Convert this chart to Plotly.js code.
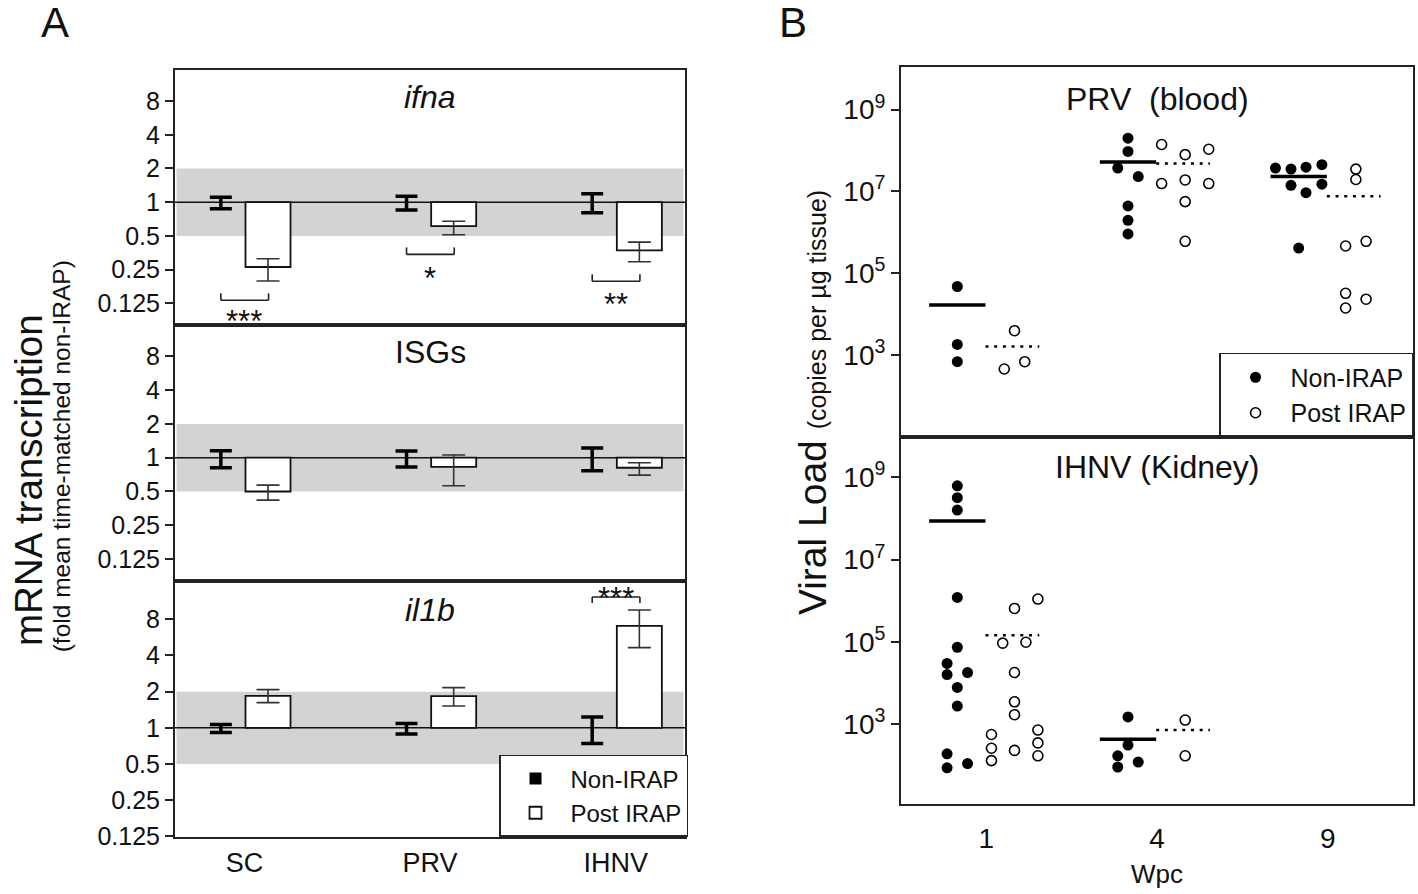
<!DOCTYPE html>
<html><head><meta charset="utf-8">
<script src="https://cdn.plot.ly/plotly-3.0.1.min.js"></script>
<style>html,body{margin:0;padding:0;background:#fff}#chart{width:1418px;height:894px}</style>
</head><body><div id="chart"></div>
<script>
// ---------- Panel A data ----------
const categories = ['SC', 'PRV', 'IHNV'];
const geneTitles = ['<i>ifna</i>', 'ISGs', '<i>il1b</i>'];
const foldTicks = [0.125, 0.25, 0.5, 1, 2, 4, 8];
const foldTickText = ['0.125', '0.25', '0.5', '1', '2', '4', '8'];

const ifnaNonMean = [1, 1, 1];
const ifnaNonErrUp = [0.108, 0.13, 0.19];
const ifnaNonErrDown = [0.126, 0.15, 0.196];
const ifnaPostMean = [0.264, 0.611, 0.372];
const ifnaPostErrUp = [0.049, 0.066, 0.068];
const ifnaPostErrDown = [0.066, 0.099, 0.078];

const isgNonMean = [1, 1, 1];
const isgNonErrUp = [0.154, 0.148, 0.22];
const isgNonErrDown = [0.186, 0.174, 0.234];
const isgPostMean = [0.50, 0.83, 0.814];
const isgPostErrUp = [0.07, 0.227, 0.089];
const isgPostErrDown = [0.081, 0.267, 0.114];

const il1bNonMean = [1, 1, 1];
const il1bNonErrUp = [0.065, 0.086, 0.227];
const il1bNonErrDown = [0.086, 0.114, 0.259];
const il1bPostMean = [1.845, 1.835, 7.05];
const il1bPostErrUp = [0.235, 0.325, 2.53];
const il1bPostErrDown = [0.225, 0.315, 2.4];

// ---------- Panel B data ----------
const wpcLabels = ['1', '4', '9'];
const loadTicks = [1e3, 1e5, 1e7, 1e9];
const loadTickText = ['10<sup>3</sup>', '10<sup>5</sup>', '10<sup>7</sup>', '10<sup>9</sup>'];

const prvNonWeek = [0,0,0, 1,1,1,1,1,1,1, 2,2,2,2,2,2,2,2];
const prvNonLoad = [4.7e4,1.8e3,6.8e2, 2.0e8,9.5e7,3.7e7,2.3e7,4.4e6,1.95e6,9.1e5, 3.7e7,3.5e7,3.9e7,4.5e7,1.4e7,9.3e6,1.5e7,4.1e5];
const prvNonJitter = [0,0,0, 0,0,-0.06,0.06,0,0,0, -0.136,-0.045,0.043,0.136,-0.045,0.043,0.136,0];
const prvPostWeek = [0,0,0, 1,1,1,1,1,1,1,1, 2,2,2,2,2,2,2];
const prvPostLoad = [3.9e3,4.5e2,6.8e2, 1.4e8,7.9e7,1.07e8,1.55e7,1.9e7,1.55e7,5.6e6,6.0e5, 3.5e7,1.95e7,4.6e5,6.0e5,3.2e4,1.4e4,2.3e4];
const prvPostJitter = [0,-0.06,0.06, -0.138,0,0.138,-0.138,0,0.138,0,0, 0,0,-0.06,0.06,-0.06,-0.06,0.06];
const prvNonMean = [1.65e4, 5.2e7, 2.3e7];
const prvPostMean = [1.6e3, 4.8e7, 7.6e6];

const ihnvNonWeek = [0,0,0,0,0,0,0,0,0,0,0,0,0, 1,1,1,1,1];
const ihnvNonLoad = [6.2e8,3.2e8,1.6e8,1.2e6,7.4e4,3.0e4,1.6e4,1.8e4,7.8e3,2.75e3,1.9e2,8.7e1,1.1e2, 1.5e3,3.1e2,1.7e2,9.1e1,1.2e2];
const ihnvNonJitter = [0,0,0,0,0,-0.06,-0.06,0.06,0,0,-0.06,-0.06,0.06, 0,0,-0.06,-0.06,0.06];
const ihnvPostWeek = [0,0,0,0,0,0,0,0,0,0,0,0,0,0, 1,1];
const ihnvPostLoad = [1.1e6,6.5e5,9.3e4,9.8e4,1.8e4,3.5e3,1.7e3,5.6e2,2.6e2,1.3e2,2.3e2,7.2e2,3.5e2,1.7e2, 1.26e3,1.7e2];
const ihnvPostJitter = [0.137,0,-0.069,0.067,0,0,0,-0.135,-0.135,-0.135,0,0.137,0.137,0.137, 0,0];
const ihnvNonMean = [8.7e7, 4.3e2, null];
const ihnvPostMean = [1.45e5, 7.2e2, null];

// ---------- build ----------
const FONT = 'Liberation Sans, Arial, sans-serif';
const A_OFF = 0.127, BAR_W = 0.2425;
const B_NON = -0.17, B_POST = 0.165;
const idx = categories.map((c, i) => i);

const traces = [];
function panelA(k, nonMean, nonUp, nonDown, postMean, postUp, postDown) {
  const xa = k === 0 ? 'x' : 'x' + (k + 1);
  const ya = k === 0 ? 'y' : 'y' + (k + 1);
  const show = k === 2;
  traces.push({type: 'bar', x: idx, y: nonMean.map(v => v - 1), base: 1,
    offset: -A_OFF - BAR_W / 2, width: BAR_W, name: 'Non-IRAP', legend: 'legend',
    marker: {color: '#000', line: {width: 0}}, showlegend: show, xaxis: xa, yaxis: ya, hoverinfo: 'skip'});
  traces.push({type: 'bar', x: idx, y: postMean.map(v => v - 1), base: 1,
    offset: A_OFF - BAR_W / 2, width: BAR_W, name: 'Post IRAP', legend: 'legend',
    marker: {color: '#fff', line: {color: '#111', width: 1.8}}, showlegend: show, xaxis: xa, yaxis: ya, hoverinfo: 'skip'});
  traces.push({type: 'scatter', mode: 'markers', x: idx.map(i => i - A_OFF), y: nonMean,
    marker: {size: 1, opacity: 0}, showlegend: false, xaxis: xa, yaxis: ya, hoverinfo: 'skip',
    error_y: {type: 'data', symmetric: false, array: nonUp, arrayminus: nonDown, color: '#000', thickness: 3.5, width: 11}});
  traces.push({type: 'scatter', mode: 'markers', x: idx.map(i => i + A_OFF), y: postMean,
    marker: {size: 1, opacity: 0}, showlegend: false, xaxis: xa, yaxis: ya, hoverinfo: 'skip',
    error_y: {type: 'data', symmetric: false, array: postUp, arrayminus: postDown, color: '#333', thickness: 1.6, width: 11.5}});
}
panelA(0, ifnaNonMean, ifnaNonErrUp, ifnaNonErrDown, ifnaPostMean, ifnaPostErrUp, ifnaPostErrDown);
panelA(1, isgNonMean, isgNonErrUp, isgNonErrDown, isgPostMean, isgPostErrUp, isgPostErrDown);
panelA(2, il1bNonMean, il1bNonErrUp, il1bNonErrDown, il1bPostMean, il1bPostErrUp, il1bPostErrDown);

function dots(week, load, jitter, center, filled, xa, ya, show) {
  traces.push({type: 'scatter', mode: 'markers', x: week.map((w, k) => w + center + jitter[k]), y: load,
    name: filled ? 'Non-IRAP' : 'Post IRAP', legend: 'legend2', showlegend: show, xaxis: xa, yaxis: ya, hoverinfo: 'skip',
    marker: filled ? {symbol: 'circle', size: 11, color: '#000'}
                   : {symbol: 'circle-open', size: 10, color: '#000', line: {width: 1.6, color: '#000'}}});
}
function means(m, x0, x1, dash, w, xa, ya) {
  const xs = [], ys = [];
  m.forEach((v, i) => { if (v == null) return; xs.push(i + x0, i + x1, null); ys.push(v, v, null); });
  traces.push({type: 'scatter', mode: 'lines', x: xs, y: ys, showlegend: false, xaxis: xa, yaxis: ya, hoverinfo: 'skip',
    line: {color: '#000', width: w, dash: dash}});
}
means(prvNonMean, -0.335, -0.005, 'solid', 3.5, 'x4', 'y4');
means(prvPostMean, -0.005, 0.31, '3px,5.7px', 2.5, 'x4', 'y4');
dots(prvNonWeek, prvNonLoad, prvNonJitter, B_NON, true, 'x4', 'y4', true);
dots(prvPostWeek, prvPostLoad, prvPostJitter, B_POST, false, 'x4', 'y4', true);
means(ihnvNonMean, -0.335, -0.005, 'solid', 3.5, 'x5', 'y5');
means(ihnvPostMean, -0.005, 0.31, '3px,5.7px', 2.5, 'x5', 'y5');
dots(ihnvNonWeek, ihnvNonLoad, ihnvNonJitter, B_NON, true, 'x5', 'y5', false);
dots(ihnvPostWeek, ihnvPostLoad, ihnvPostJitter, B_POST, false, 'x5', 'y5', false);

// ---------- layout ----------
const axLine = {showline: true, mirror: true, linecolor: '#222', linewidth: 2, showgrid: false, zeroline: false};
const xA = {...axLine, domain: [0.1234, 0.4831], range: [-0.374, 2.373], ticks: '', showticklabels: false, fixedrange: true};
const yA = {...axLine, type: 'log', tickvals: foldTicks, ticktext: foldTickText, ticks: 'outside', ticklen: 8,
  tickwidth: 2, tickcolor: '#222', tickfont: {size: 25, color: '#111'}};
const xB = {...axLine, domain: [0.6354, 0.9965], range: [-0.5, 2.5], ticks: '', showticklabels: false};
const yB = {...axLine, type: 'log', tickvals: loadTicks, ticktext: loadTickText, ticks: 'outside', ticklen: 8,
  tickwidth: 2, tickcolor: '#222', tickfont: {size: 28, color: '#111'}};

const shapes = [];
['y', 'y2', 'y3'].forEach((ya, k) => {
  const xa = k === 0 ? 'x' : 'x' + (k + 1);
  shapes.push({type: 'rect', xref: xa + ' domain', yref: ya, x0: 0.003, x1: 0.997, y0: 0.5, y1: 2,
    fillcolor: '#d3d3d3', line: {width: 0}, layer: 'below'});
  shapes.push({type: 'line', xref: xa + ' domain', yref: ya, x0: 0, x1: 1, y0: 1, y1: 1,
    line: {color: '#111', width: 1.6}, layer: 'below'});
});
function bracket(xa, ya, xc, yBar, yTip) {
  const l = {color: '#222', width: 1.6};
  shapes.push({type: 'line', xref: xa, yref: ya, x0: xc - 0.127, x1: xc + 0.13, y0: yBar, y1: yBar, line: l});
  shapes.push({type: 'line', xref: xa, yref: ya, x0: xc - 0.127, x1: xc - 0.127, y0: yBar, y1: yTip, line: l});
  shapes.push({type: 'line', xref: xa, yref: ya, x0: xc + 0.13, x1: xc + 0.13, y0: yBar, y1: yTip, line: l});
}
bracket('x', 'y', 0, 0.1332, 0.1538);
bracket('x', 'y', 1, 0.342, 0.395);
bracket('x', 'y', 2, 0.197, 0.227);
bracket('x3', 'y3', 2, 12.28, 10.95);

const ann = [];
function star(xa, ya, x, yVal, txt) {
  ann.push({xref: xa, yref: ya, x: x, y: Math.log10(yVal), text: txt, showarrow: false,
    xanchor: 'center', yanchor: 'middle', font: {size: 31, color: '#111'}});
}
star('x', 'y', 0, 0.0870, '***');
star('x', 'y', 1, 0.2100, '*');
star('x', 'y', 2, 0.1210, '**');
star('x3', 'y3', 2, 11.9, '***');

const titleY = [0.894, 0.895, 0.887];
geneTitles.forEach((t, k) => {
  const xa = k === 0 ? 'x' : 'x' + (k + 1);
  const ya = k === 0 ? 'y' : 'y' + (k + 1);
  ann.push({xref: xa + ' domain', yref: ya + ' domain', x: 0.5, y: titleY[k], text: t, showarrow: false,
    xanchor: 'center', yanchor: 'middle', font: {size: 32, color: '#111'}});
});
ann.push({xref: 'x4 domain', yref: 'y4 domain', x: 0.5, y: 0.915, text: 'PRV\u00a0\u00a0(blood)', showarrow: false,
  xanchor: 'center', yanchor: 'middle', font: {size: 32, color: '#111'}});
ann.push({xref: 'x5 domain', yref: 'y5 domain', x: 0.5, y: 0.918, text: 'IHNV (Kidney)', showarrow: false,
  xanchor: 'center', yanchor: 'middle', font: {size: 32, color: '#111'}});
ann.push({xref: 'paper', yref: 'paper', x: 0.0197, y: 0.463, text: 'mRNA transcription', textangle: -90, showarrow: false,
  xanchor: 'center', yanchor: 'middle', font: {size: 38.5, color: '#111'}});
ann.push({xref: 'paper', yref: 'paper', x: 0.0440, y: 0.49, text: '(fold mean time-matched non-IRAP)', textangle: -90, showarrow: false,
  xanchor: 'center', yanchor: 'middle', font: {size: 24.5, color: '#111'}});
ann.push({xref: 'paper', yref: 'paper', x: 0.5725, y: 0.55,
  text: 'Viral Load <span style="font-size:25px">(copies per µg tissue)</span>', textangle: -90, showarrow: false,
  xanchor: 'center', yanchor: 'middle', font: {size: 39, color: '#111'}});
ann.push({xref: 'paper', yref: 'paper', x: 0.0388, y: 0.975, text: 'A', showarrow: false,
  xanchor: 'center', yanchor: 'middle', font: {size: 42, color: '#111', family: 'Liberation Sans Narrow, Liberation Sans, Arial'}});
ann.push({xref: 'paper', yref: 'paper', x: 0.5592, y: 0.975, text: 'B', showarrow: false,
  xanchor: 'center', yanchor: 'middle', font: {size: 42, color: '#111', family: 'Liberation Sans Narrow, Liberation Sans, Arial'}});

const layout = {
  width: 1418, height: 894,
  margin: {l: 0, r: 0, t: 0, b: 0},
  paper_bgcolor: '#fff', plot_bgcolor: 'rgba(0,0,0,0)',
  font: {family: FONT, color: '#111'},
  barmode: 'overlay',
  showlegend: true,
  xaxis: {...xA, anchor: 'y'},
  yaxis: {...yA, domain: [0.6365, 0.9217], anchor: 'x', range: [-1.0957, 1.1800]},
  xaxis2: {...xA, anchor: 'y2'},
  yaxis2: {...yA, domain: [0.3501, 0.6365], anchor: 'x2', range: [-1.099, 1.183]},
  xaxis3: {...xA, anchor: 'y3', showticklabels: true, tickvals: idx, ticktext: categories,
    tickfont: {size: 27, color: '#111'}, ticklabelstandoff: 1},
  yaxis3: {...yA, domain: [0.0638, 0.3501], anchor: 'x3', range: [-0.9091, 1.2222]},
  xaxis4: {...xB, anchor: 'y4'},
  yaxis4: {...yB, domain: [0.5112, 0.9245], anchor: 'x4', range: [0.99, 10.03]},
  xaxis5: {...xB, anchor: 'y5', showticklabels: true, tickvals: [0, 1, 2], ticktext: wpcLabels,
    tickfont: {size: 28, color: '#111'}, ticklabelstandoff: 8,
    title: {text: 'Wpc', font: {size: 26, color: '#111'}, standoff: 12}},
  yaxis5: {...yB, domain: [0.1007, 0.5112], anchor: 'x5', range: [1.06, 9.98]},
  legend: {x: 0.4852, xanchor: 'right', y: 0.0638, yanchor: 'bottom', bgcolor: '#fff',
    bordercolor: '#222', borderwidth: 1.5, font: {size: 24, color: '#111'}, itemwidth: 60, traceorder: 'normal'},
  legend2: {x: 0.9965, xanchor: 'right', y: 0.5112, yanchor: 'bottom', bgcolor: '#fff',
    bordercolor: '#222', borderwidth: 1.5, font: {size: 25, color: '#111'}, itemwidth: 60, traceorder: 'normal'},
  shapes: shapes,
  annotations: ann
};
Plotly.newPlot('chart', traces, layout, {displayModeBar: false, staticPlot: true});
</script></body></html>
